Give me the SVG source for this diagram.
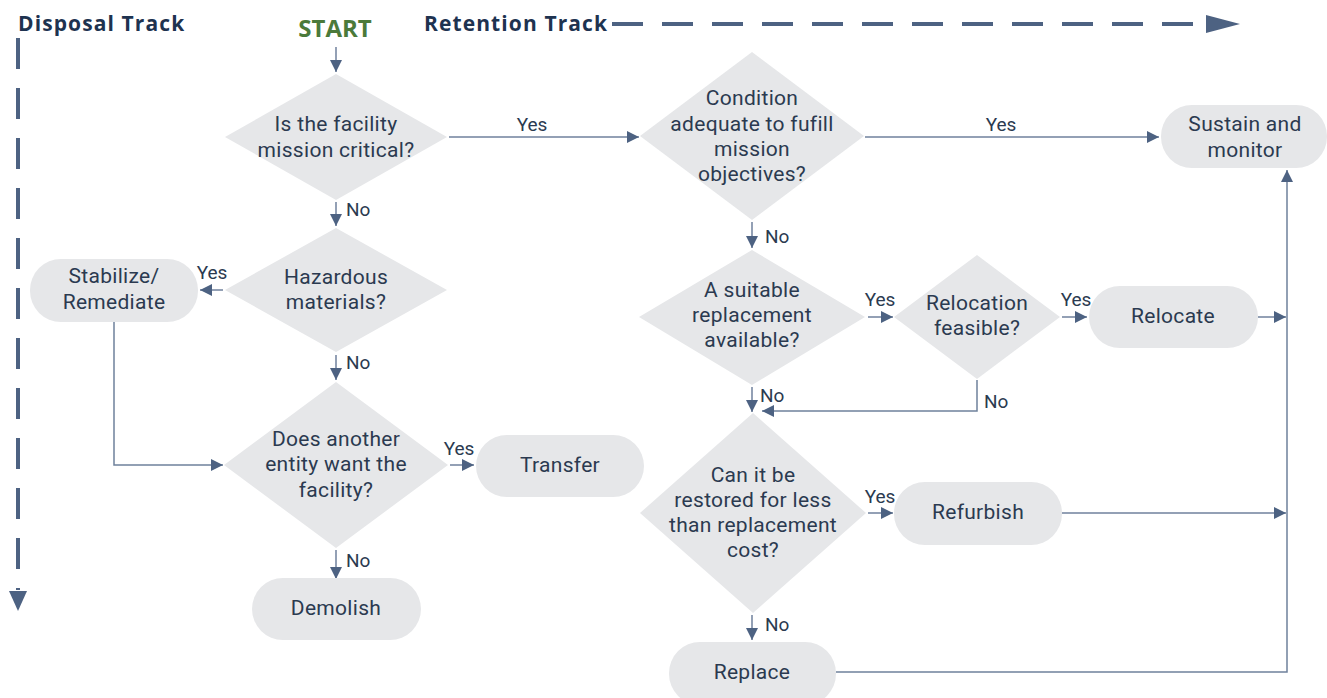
<svg xmlns="http://www.w3.org/2000/svg" width="1327" height="698" viewBox="0 0 1327 698">
  <defs>
    <style>
      .shape { fill: #e6e7e9; }
      .txt { font-family: Roboto, "Open Sans", "Liberation Sans", sans-serif; font-size: 21px; letter-spacing: 0.3px; fill: #2b3a50; text-anchor: middle; }
      .lbl { font-family: Roboto, "Open Sans", "Liberation Sans", sans-serif; font-size: 19px; fill: #2b3a50; }
      .title { font-family: "Open Sans", "Liberation Sans", sans-serif; font-size: 21px; font-weight: bold; letter-spacing: 1.1px; fill: #1e3350; }
      .start { font-family: "Open Sans", "Liberation Sans", sans-serif; font-size: 24px; font-weight: bold; fill: #4b7a3a; text-anchor: middle; }
      .conn { fill: none; stroke: #6f819c; stroke-width: 1.5; }
      .track { fill: none; stroke: #4d6282; stroke-width: 4; stroke-dasharray: 31 19; }
    </style>
    <marker id="arr" viewBox="0 0 10 10" refX="10" refY="5" markerWidth="12" markerHeight="12" markerUnits="userSpaceOnUse" orient="auto">
      <path d="M0,0 L10,5 L0,10 Z" fill="#4d6282"/>
    </marker>
  </defs>

  <!-- Track headings and dashed direction lines -->
  <g id="tracks">
    <text class="title" x="18" y="31">Disposal Track</text>
    <text class="title" x="424" y="31">Retention Track</text>
    <line class="track" x1="18" y1="38" x2="18" y2="590"/>
    <path d="M9,591 L27,591 L18,611 Z" fill="#4d6282"/>
    <line class="track" x1="612" y1="24" x2="1212" y2="24"/>
    <path d="M1206,15 L1240,24 L1206,33 Z" fill="#4d6282"/>
  </g>

  <g id="start">
    <text class="start" x="335" y="37">START</text>
  </g>

  <!-- Connectors -->
  <g id="connectors">
    <line class="conn" x1="336" y1="47" x2="336" y2="72" marker-end="url(#arr)"/>
    <line class="conn" x1="449" y1="137" x2="639" y2="137" marker-end="url(#arr)"/>
    <line class="conn" x1="865" y1="137" x2="1159" y2="137" marker-end="url(#arr)"/>
    <line class="conn" x1="336" y1="202" x2="336" y2="226" marker-end="url(#arr)"/>
    <line class="conn" x1="223" y1="290" x2="200" y2="290" marker-end="url(#arr)"/>
    <polyline class="conn" points="114,322 114,465 223,465" marker-end="url(#arr)"/>
    <line class="conn" x1="336" y1="355" x2="336" y2="380" marker-end="url(#arr)"/>
    <line class="conn" x1="450" y1="465" x2="474" y2="465" marker-end="url(#arr)"/>
    <line class="conn" x1="336" y1="550" x2="336" y2="579" marker-end="url(#arr)"/>
    <line class="conn" x1="752" y1="222" x2="752" y2="248" marker-end="url(#arr)"/>
    <line class="conn" x1="868" y1="317" x2="893" y2="317" marker-end="url(#arr)"/>
    <line class="conn" x1="1062" y1="317" x2="1087" y2="317" marker-end="url(#arr)"/>
    <line class="conn" x1="1258" y1="317" x2="1286" y2="317" marker-end="url(#arr)"/>
    <line class="conn" x1="752" y1="387" x2="752" y2="412" marker-end="url(#arr)"/>
    <polyline class="conn" points="977,380 977,411 762,411" marker-end="url(#arr)"/>
    <line class="conn" x1="868" y1="513" x2="893" y2="513" marker-end="url(#arr)"/>
    <line class="conn" x1="1062" y1="513" x2="1286" y2="513" marker-end="url(#arr)"/>
    <line class="conn" x1="752" y1="615" x2="752" y2="640" marker-end="url(#arr)"/>
    <polyline class="conn" points="836,672 1287,672 1287,170" marker-end="url(#arr)"/>

    <text class="lbl" x="532" y="131" text-anchor="middle">Yes</text>
    <text class="lbl" x="1001" y="131" text-anchor="middle">Yes</text>
    <text class="lbl" x="346" y="216">No</text>
    <text class="lbl" x="212" y="279" text-anchor="middle">Yes</text>
    <text class="lbl" x="346" y="369">No</text>
    <text class="lbl" x="459" y="455" text-anchor="middle">Yes</text>
    <text class="lbl" x="346" y="567">No</text>
    <text class="lbl" x="765" y="243">No</text>
    <text class="lbl" x="880" y="306" text-anchor="middle">Yes</text>
    <text class="lbl" x="1076" y="306" text-anchor="middle">Yes</text>
    <text class="lbl" x="760" y="402">No</text>
    <text class="lbl" x="984" y="408">No</text>
    <text class="lbl" x="880" y="503" text-anchor="middle">Yes</text>
    <text class="lbl" x="765" y="631">No</text>
  </g>

  <!-- Decision nodes -->
  <g id="q-mission-critical">
    <polygon class="shape" points="336,74 447,137 336,200 225,137"/>
    <text class="txt" x="336" y="131">Is  the facility</text>
    <text class="txt" x="336" y="157">mission critical?</text>
  </g>
  <g id="q-condition">
    <polygon class="shape" points="752,52 864,136 752,220 640,136"/>
    <text class="txt" x="752" y="105">Condition</text>
    <text class="txt" x="752" y="131">adequate to fufill</text>
    <text class="txt" x="752" y="156">mission</text>
    <text class="txt" x="752" y="181">objectives?</text>
  </g>
  <g id="q-hazardous">
    <polygon class="shape" points="336,228 447,290 336,352 225,290"/>
    <text class="txt" x="336" y="284">Hazardous</text>
    <text class="txt" x="336" y="309">materials?</text>
  </g>
  <g id="q-another-entity">
    <polygon class="shape" points="336,382 448,465 336,548 224,465"/>
    <text class="txt" x="336" y="446">Does another</text>
    <text class="txt" x="336" y="471">entity want the</text>
    <text class="txt" x="336" y="497">facility?</text>
  </g>
  <g id="q-replacement">
    <polygon class="shape" points="752,250 865,317 752,385 639,317"/>
    <text class="txt" x="752" y="297">A suitable</text>
    <text class="txt" x="752" y="322">replacement</text>
    <text class="txt" x="752" y="347">available?</text>
  </g>
  <g id="q-relocation">
    <polygon class="shape" points="977,255 1060,317 977,379 894,317"/>
    <text class="txt" x="977" y="310">Relocation</text>
    <text class="txt" x="977" y="335">feasible?</text>
  </g>
  <g id="q-restore">
    <polygon class="shape" points="753,413 866,513 753,613 640,513"/>
    <text class="txt" x="753" y="482">Can it be</text>
    <text class="txt" x="753" y="507">restored for less</text>
    <text class="txt" x="753" y="532">than replacement</text>
    <text class="txt" x="753" y="557">cost?</text>
  </g>

  <!-- Action nodes -->
  <g id="a-sustain">
    <rect class="shape" x="1161" y="105" width="166" height="63" rx="31"/>
    <text class="txt" x="1245" y="131">Sustain and</text>
    <text class="txt" x="1245" y="157">monitor</text>
  </g>
  <g id="a-stabilize">
    <rect class="shape" x="30" y="259" width="168" height="63" rx="31"/>
    <text class="txt" x="114" y="283">Stabilize/</text>
    <text class="txt" x="114" y="309">Remediate</text>
  </g>
  <g id="a-transfer">
    <rect class="shape" x="476" y="435" width="168" height="62" rx="31"/>
    <text class="txt" x="560" y="472">Transfer</text>
  </g>
  <g id="a-demolish">
    <rect class="shape" x="252" y="578" width="169" height="62" rx="31"/>
    <text class="txt" x="336" y="615">Demolish</text>
  </g>
  <g id="a-relocate">
    <rect class="shape" x="1089" y="286" width="169" height="62" rx="31"/>
    <text class="txt" x="1173" y="323">Relocate</text>
  </g>
  <g id="a-refurbish">
    <rect class="shape" x="894" y="482" width="168" height="63" rx="31"/>
    <text class="txt" x="978" y="519">Refurbish</text>
  </g>
  <g id="a-replace">
    <rect class="shape" x="669" y="642" width="167" height="63" rx="31"/>
    <text class="txt" x="752" y="679">Replace</text>
  </g>
</svg>
